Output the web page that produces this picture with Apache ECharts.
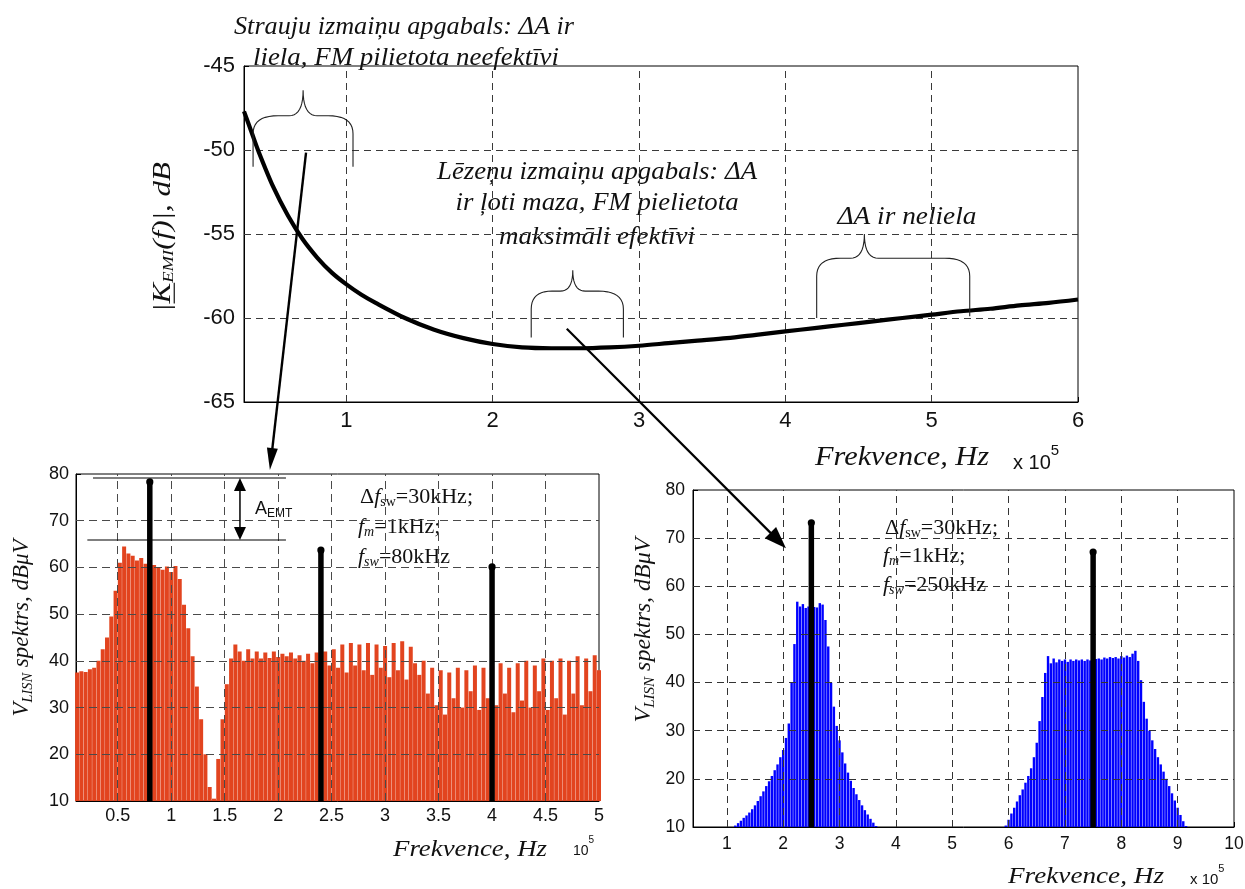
<!DOCTYPE html>
<html><head><meta charset="utf-8">
<script src="https://cdn.jsdelivr.net/npm/echarts@6/dist/echarts.min.js"></script>
<style>html,body{margin:0;padding:0;background:#fff}#c{width:1245px;height:889px}</style>
</head><body><div id="c"></div>
<script>
// ---------------- DATA ----------------
// Top chart: |K_EMI(f)|, dB vs frequency (x 1e5 Hz)
const kemiFreq = [0.30,0.35,0.40,0.50,0.60,0.70,0.80,0.90,1.00,1.10,1.20,1.40,1.60,1.80,2.00,2.20,2.40,2.60,2.80,3.00,3.20,3.40,3.60,3.80,4.00,4.20,4.40,4.60,4.80,5.00,5.20,5.40,5.60,5.80,6.00];
const kemiDb   = [-47.7,-48.9,-50.1,-52.2,-53.9,-55.3,-56.4,-57.3,-58.0,-58.6,-59.1,-60.0,-60.7,-61.2,-61.55,-61.75,-61.8,-61.8,-61.75,-61.65,-61.5,-61.35,-61.2,-61.0,-60.8,-60.6,-60.4,-60.2,-60.0,-59.8,-59.6,-59.45,-59.25,-59.1,-58.9];
const topXTicks = [1,2,3,4,5,6];

// Bottom-left: V_LISN spectrum, fsw = 80 kHz (bins every 0.04e5 Hz from 0.12e5)
const redStart = 0.12, redStep = 0.04;
const redVals = [37.5,37.8,37.6,38.2,38.5,40.0,42.5,45.0,49.5,55.0,
  61.0,64.5,63.0,62.5,61.5,62.0,60.8,61.0,60.5,60.0,
  59.5,60.2,59.0,60.3,57.5,52.0,47.0,41.0,34.5,27.5,
  20.0,13.0,10.5,19.0,27.5,35.0,40.5,43.5,42.0,40.0,
  42.5,40.5,42.0,40.5,41.8,40.6,42.0,40.8,41.5,41.0,
  41.8,40.5,41.2,40.0,41.5,39.5,41.8,40.5,42.0,39.0,
  42.5,38.5,43.5,37.5,43.8,39.0,43.5,38.0,43.8,37.0,
  43.5,38.5,43.2,36.5,43.8,38.0,44.2,36.0,43.0,39.5,
  37.0,40.0,33.0,38.5,30.5,38.0,28.5,37.5,32.0,38.5,
  30.0,38.0,33.5,39.0,29.5,38.5,32.0,39.0,30.5,39.5,
  33.0,38.5,29.0,39.5,31.5,40.0,30.0,39.0,33.5,40.5,
  29.5,40.0,32.0,40.5,28.5,40.0,33.0,41.0,30.5,40.5,
  33.5,41.2,38.0];
const leftXTicks = [0.5,1,1.5,2,2.5,3,3.5,4,4.5,5];
const stemsLX = [0.8, 2.4, 4.0];
const stemsLY = [78.3, 63.7, 60.1];

// Bottom-right: V_LISN spectrum, fsw = 250 kHz (bins every 0.05e5 Hz)
const blueStep = 0.05;
const blue1Start = 1.15;
const blue1Vals = [10.3,10.8,11.3,11.9,12.4,13.0,13.7,14.5,15.4,16.4,
  17.4,18.5,19.5,20.6,21.8,23.0,24.5,26.0,28.5,31.5,
  40.0,48.0,56.8,55.8,56.3,55.5,55.8,55.5,55.7,55.6,
  56.5,56.2,53.0,47.5,40.0,35.0,31.0,28.0,25.5,23.2,
  21.3,19.6,18.1,16.8,15.6,14.5,13.5,12.6,11.7,10.9,10.2];
const blue2Start = 5.95;
const blue2Vals = [10.3,11.5,12.8,14.0,15.3,16.6,17.8,19.2,20.6,22.2,
  24.5,27.5,32.0,37.0,42.0,45.5,44.0,45.0,44.2,44.8,
  44.5,44.8,44.3,44.8,44.5,44.8,44.6,44.8,44.5,44.8,
  44.6,44.8,44.9,45.0,44.8,45.2,45.0,45.3,45.1,45.3,
  45.0,45.5,45.2,45.6,45.3,46.0,46.6,44.5,40.5,36.0,
  32.5,30.0,28.0,26.2,24.5,23.0,21.5,20.0,18.5,17.0,
  15.5,14.0,12.5,11.2,10.2];
const rightXTicks = [1,2,3,4,5,6,7,8,9,10];
const stemsRX = [2.5, 7.5];
const stemsRY = [73.2, 67.1];

// ---------------- CHART ----------------
const sans = '"Liberation Sans", Arial, Helvetica, sans-serif';
const serif = '"Liberation Serif", "Times New Roman", Times, serif';
const ink = '#111';

const pairs = (xs, ys) => xs.map((x, i) => [x, ys[i]]);
const grid = (start, step, n) => Array.from({length: n}, (_, i) => +(start + step * i).toFixed(3));
const redData = pairs(grid(redStart, redStep, redVals.length), redVals);
const blueData = pairs(grid(blue1Start, blueStep, blue1Vals.length), blue1Vals)
  .concat(pairs(grid(blue2Start, blueStep, blue2Vals.length), blue2Vals));

function mkX(gi, min, max, ticks, fs, margin) {
  return {type: 'value', gridIndex: gi, min, max,
    axisLine: {show: true, lineStyle: {color: '#000', width: 1}},
    axisTick: {show: true, inside: true, length: 5, customValues: ticks, lineStyle: {color: '#000'}},
    axisLabel: {customValues: ticks, fontFamily: sans, fontSize: fs, color: ink, margin, formatter: v => String(v)},
    splitLine: {show: false}};
}
function mkY(gi, min, max, interval, fs, margin) {
  return {type: 'value', gridIndex: gi, min, max, interval,
    axisLine: {show: true, lineStyle: {color: '#000', width: 1}},
    axisTick: {show: true, inside: true, length: 5, lineStyle: {color: '#000'}},
    axisLabel: {fontFamily: sans, fontSize: fs, color: ink, margin},
    splitLine: {show: false}};
}
function gridMarks(xs, ys, color, dash) {
  return {silent: true, symbol: ['none', 'none'], label: {show: false}, animation: false,
    emphasis: {disabled: true}, lineStyle: {color, type: dash, width: 1},
    data: xs.map(v => ({xAxis: v})).concat(ys.map(v => ({yAxis: v})))};
}
function stemRender(params, api) {
  const x = api.value(0), y = api.value(1);
  const b = api.coord([x, 10]), t = api.coord([x, y]);
  return {type: 'group', children: [
    {type: 'line', shape: {x1: b[0], y1: b[1], x2: t[0], y2: t[1]}, style: {stroke: '#000', lineWidth: 5.5}},
    {type: 'circle', shape: {cx: t[0], cy: t[1], r: 3.6}, style: {fill: '#000'}}
  ]};
}

const chart = echarts.init(document.getElementById('c'), null, {renderer: 'canvas', width: 1245, height: 889});
const gridBase = {show: true, borderColor: '#000', borderWidth: 1, backgroundColor: '#fff', containLabel: false, outerBoundsMode: 'none'};
chart.setOption({
  animation: false,
  backgroundColor: '#fff',
  grid: [
    Object.assign({left: 244, top: 66, width: 834, height: 336}, gridBase),
    Object.assign({left: 76, top: 474, width: 523, height: 327}, gridBase),
    Object.assign({left: 693, top: 490, width: 541, height: 337}, gridBase)
  ],
  xAxis: [
    mkX(0, 0.3, 6, topXTicks, 22, 8),
    mkX(1, 0.11, 5, leftXTicks, 18, 6),
    mkX(2, 0.4, 10, rightXTicks, 17.5, 8)
  ],
  yAxis: [
    mkY(0, -65, -45, 5, 22, 9),
    mkY(1, 10, 80, 10, 18, 7),
    mkY(2, 10, 80, 10, 17.5, 8)
  ],
  series: [
    {type: 'line', xAxisIndex: 0, yAxisIndex: 0, data: pairs(kemiFreq, kemiDb), smooth: 0.3,
      showSymbol: false, symbol: 'none', lineStyle: {color: '#000', width: 4.2}, z: 6, silent: true,
      markLine: gridMarks([1, 2, 3, 4, 5], [-60, -55, -50], '#3a3a3a', [7, 5])},
    {type: 'bar', xAxisIndex: 1, yAxisIndex: 1, data: redData, barWidth: 4, silent: true,
      itemStyle: {color: '#E2441F'},
      markLine: gridMarks([0.5, 1, 1.5, 2, 2.5, 3, 3.5, 4, 4.5], [20, 30, 40, 50, 60, 70], '#4a4a4a', [8, 5])},
    {type: 'custom', xAxisIndex: 1, yAxisIndex: 1, data: pairs(stemsLX, stemsLY), renderItem: stemRender, z: 6, silent: true},
    {type: 'bar', xAxisIndex: 2, yAxisIndex: 2, data: blueData, barWidth: 2.4, silent: true,
      itemStyle: {color: '#0000FF'},
      markLine: gridMarks([1, 2, 3, 4, 5, 6, 7, 8, 9], [20, 30, 40, 50, 60, 70], '#333', [7, 5])},
    {type: 'custom', xAxisIndex: 2, yAxisIndex: 2, data: pairs(stemsRX, stemsRY), renderItem: stemRender, z: 6, silent: true}
  ]
});

// ---------------- ANNOTATIONS ----------------
const P0 = p => chart.convertToPixel({xAxisIndex: 0, yAxisIndex: 0}, p);
const P1 = p => chart.convertToPixel({xAxisIndex: 1, yAxisIndex: 1}, p);
const P2 = p => chart.convertToPixel({xAxisIndex: 2, yAxisIndex: 2}, p);

const mctx = document.createElement('canvas').getContext('2d');
const fontStr = s => (s.it ? 'italic ' : '') + s.size + 'px ' + (s.fam || serif);
function textRun(cx, cy, segs, opt) {
  opt = opt || {};
  const widths = segs.map(s => { mctx.font = fontStr(s); return mctx.measureText(s.t).width; });
  const total = widths.reduce((a, b) => a + b, 0);
  const k = opt.len ? opt.len / total : 1;
  let x = opt.align === 'left' ? 0 : -total / 2;
  const children = [];
  segs.forEach((s, i) => {
    children.push({type: 'text', x: x, y: s.dy || 0,
      style: {text: s.t, font: fontStr(s), fill: ink, textAlign: 'left', textVerticalAlign: 'middle', align: 'left', verticalAlign: 'middle'}});
    if (s.ul) children.push({type: 'line', shape: {x1: x, y1: s.size * 0.45, x2: x + widths[i], y2: s.size * 0.45},
      style: {stroke: ink, lineWidth: 1.2}});
    x += widths[i];
  });
  return {type: 'group', x: cx, y: cy, rotation: opt.rot || 0, scaleX: k, scaleY: 1, children, z: 100, silent: true};
}
function quad(p0, c, p1, n) {
  const out = [];
  for (let i = 1; i <= n; i++) {
    const t = i / n, a = (1 - t) * (1 - t), b = 2 * (1 - t) * t, d = t * t;
    out.push([a * p0[0] + b * c[0] + d * p1[0], a * p0[1] + b * c[1] + d * p1[1]]);
  }
  return out;
}
function brace(L, R, T, yS) {
  const x1 = L[0], x2 = R[0], xt = T[0], yt = T[1];
  const hl = xt - x1, hr = x2 - xt;
  const rxl = Math.min(25, hl * 0.5), rxr = Math.min(25, hr * 0.5);
  const cx = Math.min(14, Math.min(hl, hr) * 0.3);
  const ryl = Math.min(18, (L[1] - yS) * 0.5), ryr = Math.min(18, (R[1] - yS) * 0.5);
  let pts = [[x1, L[1]], [x1, yS + ryl]];
  pts = pts.concat(quad([x1, yS + ryl], [x1, yS], [x1 + rxl, yS], 10));
  pts.push([xt - cx, yS]);
  pts = pts.concat(quad([xt - cx, yS], [xt, yS], [xt, yt], 10));
  pts = pts.concat(quad([xt, yt], [xt, yS], [xt + cx, yS], 10));
  pts.push([x2 - rxr, yS]);
  pts = pts.concat(quad([x2 - rxr, yS], [x2, yS], [x2, yS + ryr], 10));
  pts.push([x2, R[1]]);
  return {type: 'polyline', shape: {points: pts}, style: {stroke: '#222', lineWidth: 1.1, fill: null}, z: 100, silent: true};
}
function arrow(p1, p2, lw, hl, hw) {
  const dx = p2[0] - p1[0], dy = p2[1] - p1[1], L = Math.hypot(dx, dy), ux = dx / L, uy = dy / L;
  const bx = p2[0] - ux * hl, by = p2[1] - uy * hl;
  return [
    {type: 'line', shape: {x1: p1[0], y1: p1[1], x2: bx + ux * 2, y2: by + uy * 2}, style: {stroke: '#000', lineWidth: lw}, z: 100, silent: true},
    {type: 'polygon', shape: {points: [[p2[0], p2[1]], [bx - uy * hw, by + ux * hw], [bx + uy * hw, by - ux * hw]]}, style: {fill: '#000'}, z: 100, silent: true}
  ];
}
function hline(a, b, lw) {
  return {type: 'line', shape: {x1: a[0], y1: a[1], x2: b[0], y2: b[1]}, style: {stroke: '#000', lineWidth: lw}, z: 100, silent: true};
}

const g = [];
// braces on the top chart
g.push(brace(P0([0.362, -51.0]), P0([1.045, -51.0]), P0([0.704, -46.44]), P0([0.7, -47.96])[1]));
g.push(brace(P0([2.263, -61.16]), P0([2.893, -61.16]), P0([2.547, -57.16]), P0([2.5, -58.4])[1]));
g.push(brace(P0([4.214, -60.0]), P0([5.26, -59.9]), P0([4.54, -55.0]), P0([4.5, -56.44])[1]));
// arrows between charts
arrow(P0([0.724, -50.16]), P1([1.923, 80.86]), 2.4, 22, 5.5).forEach(e => g.push(e));
arrow(P0([2.506, -60.64]), P2([2.05, 67.9]), 2.2, 22, 8).forEach(e => g.push(e));
// A_EMT marker on bottom-left chart
g.push(hline(P1([0.269, 79.14]), P1([2.073, 79.14]), 1.2));
g.push(hline(P1([0.216, 65.87]), P1([2.073, 65.87]), 1.2));
{
  const a = P1([1.643, 79.14]), b = P1([1.643, 65.87]);
  const mid = [(a[0] + b[0]) / 2, (a[1] + b[1]) / 2];
  arrow(mid, a, 1.5, 13, 6).forEach(e => g.push(e));
  arrow(mid, b, 1.5, 13, 6).forEach(e => g.push(e));
}

// texts
const S = (t, size, it, extra) => Object.assign({t, size, it}, extra || {});
g.push(textRun(404, 27, [S('Strauju izmaiņu apgabals: ΔA ir', 26, true)], {len: 340}));
g.push(textRun(406, 58, [S('liela, FM pilietota neefektīvi', 26, true)], {len: 306}));
g.push(textRun(597, 172, [S('Lēzeņu izmaiņu apgabals: ΔA', 26, true)], {len: 320}));
g.push(textRun(597, 203, [S('ir ļoti maza, FM pielietota', 26, true)], {len: 283}));
g.push(textRun(597, 237, [S('maksimāli efektīvi', 26, true)], {len: 196}));
g.push(textRun(907, 217, [S('ΔA ir neliela', 26, true)], {len: 139}));
// top chart axis titles
g.push(textRun(902, 458, [S('Frekvence, Hz', 27, true)], {len: 174}));
g.push(textRun(1013, 463, [S('x 10', 20, false, {fam: sans}), S('5', 15, false, {fam: sans, dy: -12})], {align: 'left'}));
g.push(textRun(163, 237, [S('|', 25, true), S('K', 25, true, {ul: true}), S('EMI', 15, true, {dy: 6}), S('(f)|, dB', 25, true)], {rot: Math.PI / 2, len: 150}));
// bottom-left titles
g.push(textRun(22, 628, [S('V', 24, true), S('LISN', 15, true, {dy: 6}), S(' spektrs, dBμV', 24, true)], {rot: Math.PI / 2, len: 177}));
g.push(textRun(393, 850, [S('Frekvence, Hz', 24, true)], {align: 'left', len: 154}));
g.push(textRun(573, 851, [S('10', 14, false, {fam: sans}), S('5', 10, false, {fam: sans, dy: -11})], {align: 'left'}));
// bottom-right titles
g.push(textRun(644, 630, [S('V', 24, true), S('LISN', 15, true, {dy: 6}), S(' spektrs, dBμV', 24, true)], {rot: Math.PI / 2, len: 185}));
g.push(textRun(1008, 877, [S('Frekvence, Hz', 24, true)], {align: 'left', len: 156}));
g.push(textRun(1190, 880, [S('x 10', 15, false, {fam: sans}), S('5', 11, false, {fam: sans, dy: -11})], {align: 'left'}));
// parameter notes
function notes(x, y0, dyLine, fsw) {
  g.push(textRun(x + 2, y0, [S('Δ', 22, false), S('f', 22, true), S('sw', 14, false, {dy: 5}), S('=30kHz;', 22, false)], {align: 'left'}));
  g.push(textRun(x, y0 + dyLine, [S('f', 22, true), S('m', 14, true, {dy: 5}), S('=1kHz;', 22, false)], {align: 'left'}));
  g.push(textRun(x, y0 + 2 * dyLine, [S('f', 22, true), S('sw', 14, true, {dy: 5}), S('=' + fsw, 22, false)], {align: 'left'}));
}
notes(358, 497, 30, '80kHz');
notes(883, 528, 28.5, '250kHz');
g.push(textRun(255, 509, [S('A', 18, false, {fam: sans}), S('EMT', 12, false, {fam: sans, dy: 5})], {align: 'left'}));

chart.setOption({graphic: {elements: g}});
</script>
</body></html>
